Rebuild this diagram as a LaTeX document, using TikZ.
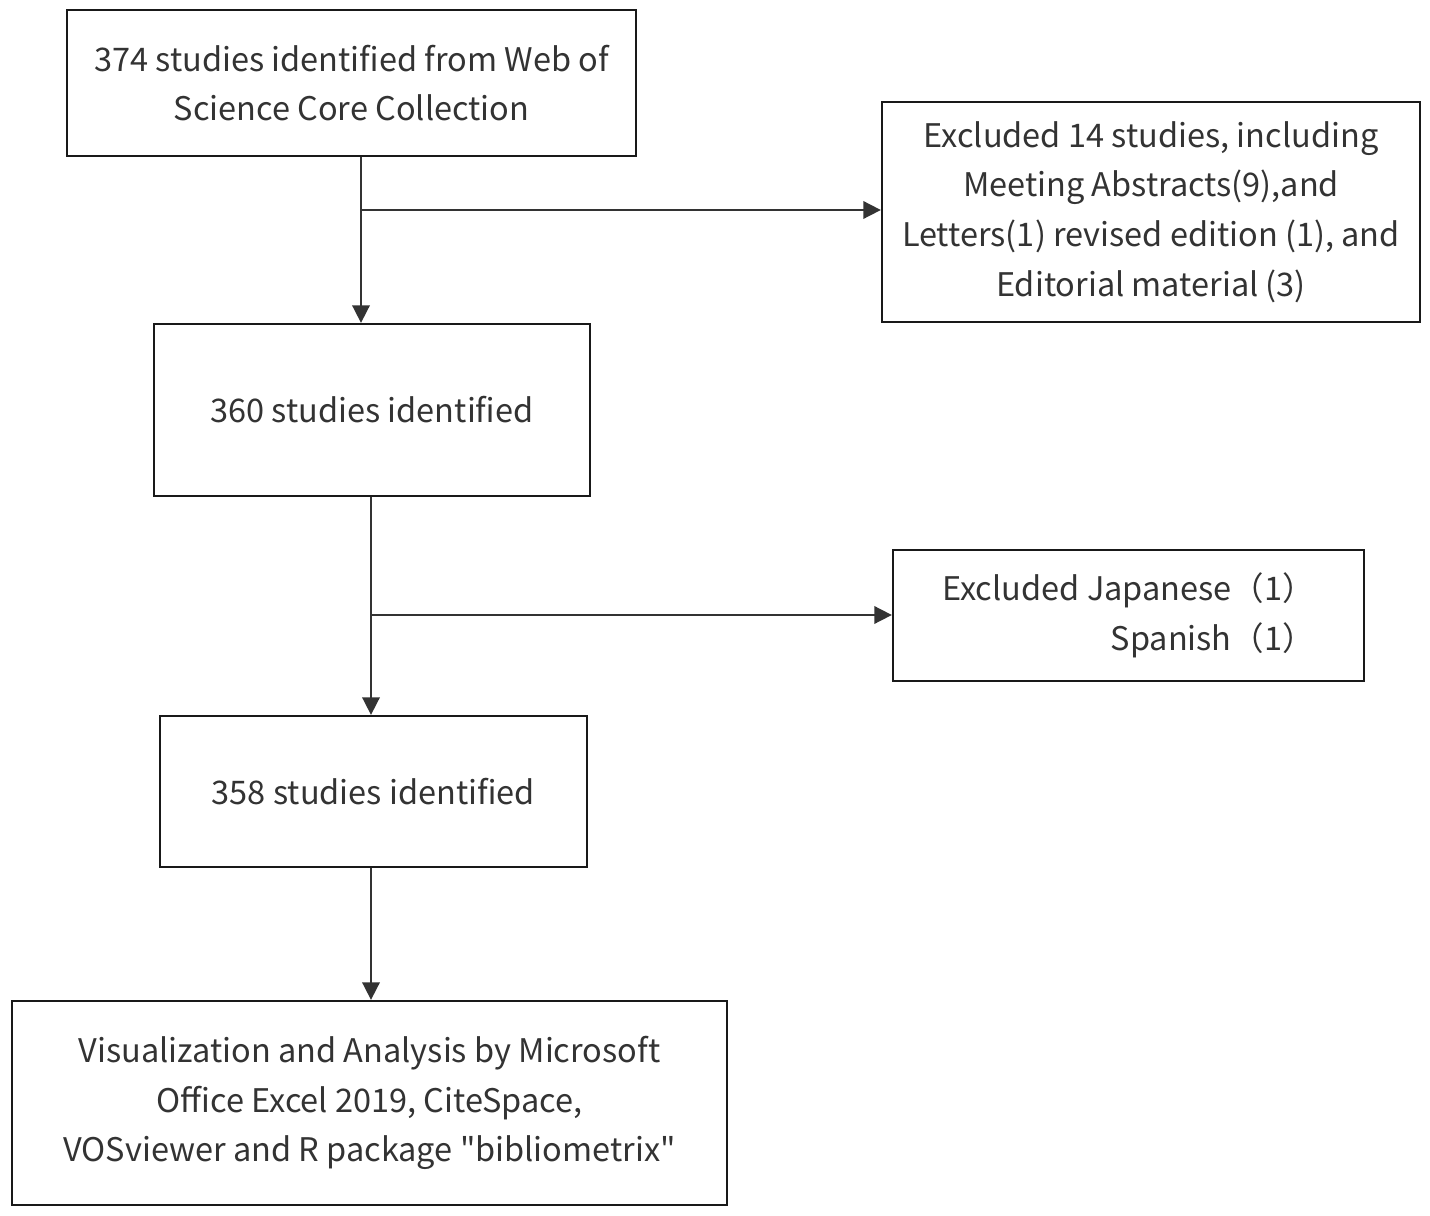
\documentclass[tikz,border=0pt]{standalone}
\usepackage{fontspec}
\setmainfont{Noto Sans CJK SC}
\usepackage{tikz}
\usetikzlibrary{arrows.meta}
\usetikzlibrary{positioning}
\usetikzlibrary{calc}

\newcommand{\px}{0.02cm}
\tikzset{
	box/.style 2 args={draw=black!90, line width=1.3pt, align=center, inner sep=0pt,
			minimum width={#1*\px}, minimum height={#2*\px}, text=black!80},
	flow/.style={draw=black!80, line width=1pt, -{Triangle[length=10pt, width=10pt]}}
}

\begin{document}
\begin{tikzpicture}[x=\px, y=-\px, font=\fontsize{18.5}{28.2}\selectfont]
				\useasboundingbox (0, 0) rectangle (1430, 1216);

				\node[box={569}{146}] (wos) at (351.5, 83) {374 studies identified from Web of \\ Science Core Collection};
				\node[box={538}{220}] (excl1) at (1151, 212) {Excluded 14 studies, including \\ Meeting Abstracts(9),and \\ Letters(1) revised edition (1), and \\ Editorial material (3)};
				\node[box={436}{172}] (s360) at (372, 410) {360 studies identified};
				\node[box={471}{131}] (excl2) at (1128.5, 615.5) {\begin{tabular}{@{}r@{}}Excluded Japanese（1）\\ Spanish（1）\end{tabular}};
				\node[box={427}{151}] (s358) at (373.5, 791.5) {358 studies identified};
				\node[box={715}{204}] (vis) at (369.5, 1103) {Visualization and Analysis by Microsoft \\ Office Excel 2019, CiteSpace, \\ VOSviewer and R package \textquotedbl bibliometrix\textquotedbl};

				\coordinate (j1) at (361, 210);
				\coordinate (j2) at (371, 615);

				\draw[flow] (j1 |- wos.south) -- (j1 |- s360.north);
				\draw[flow] (j1) -- (j1 -| excl1.west);
				\draw[flow] (j2 |- s360.south) -- (j2 |- s358.north);
				\draw[flow] (j2) -- (j2 -| excl2.west);
				\draw[flow] (j2 |- s358.south) -- (j2 |- vis.north);
			\end{tikzpicture}
\end{document}
